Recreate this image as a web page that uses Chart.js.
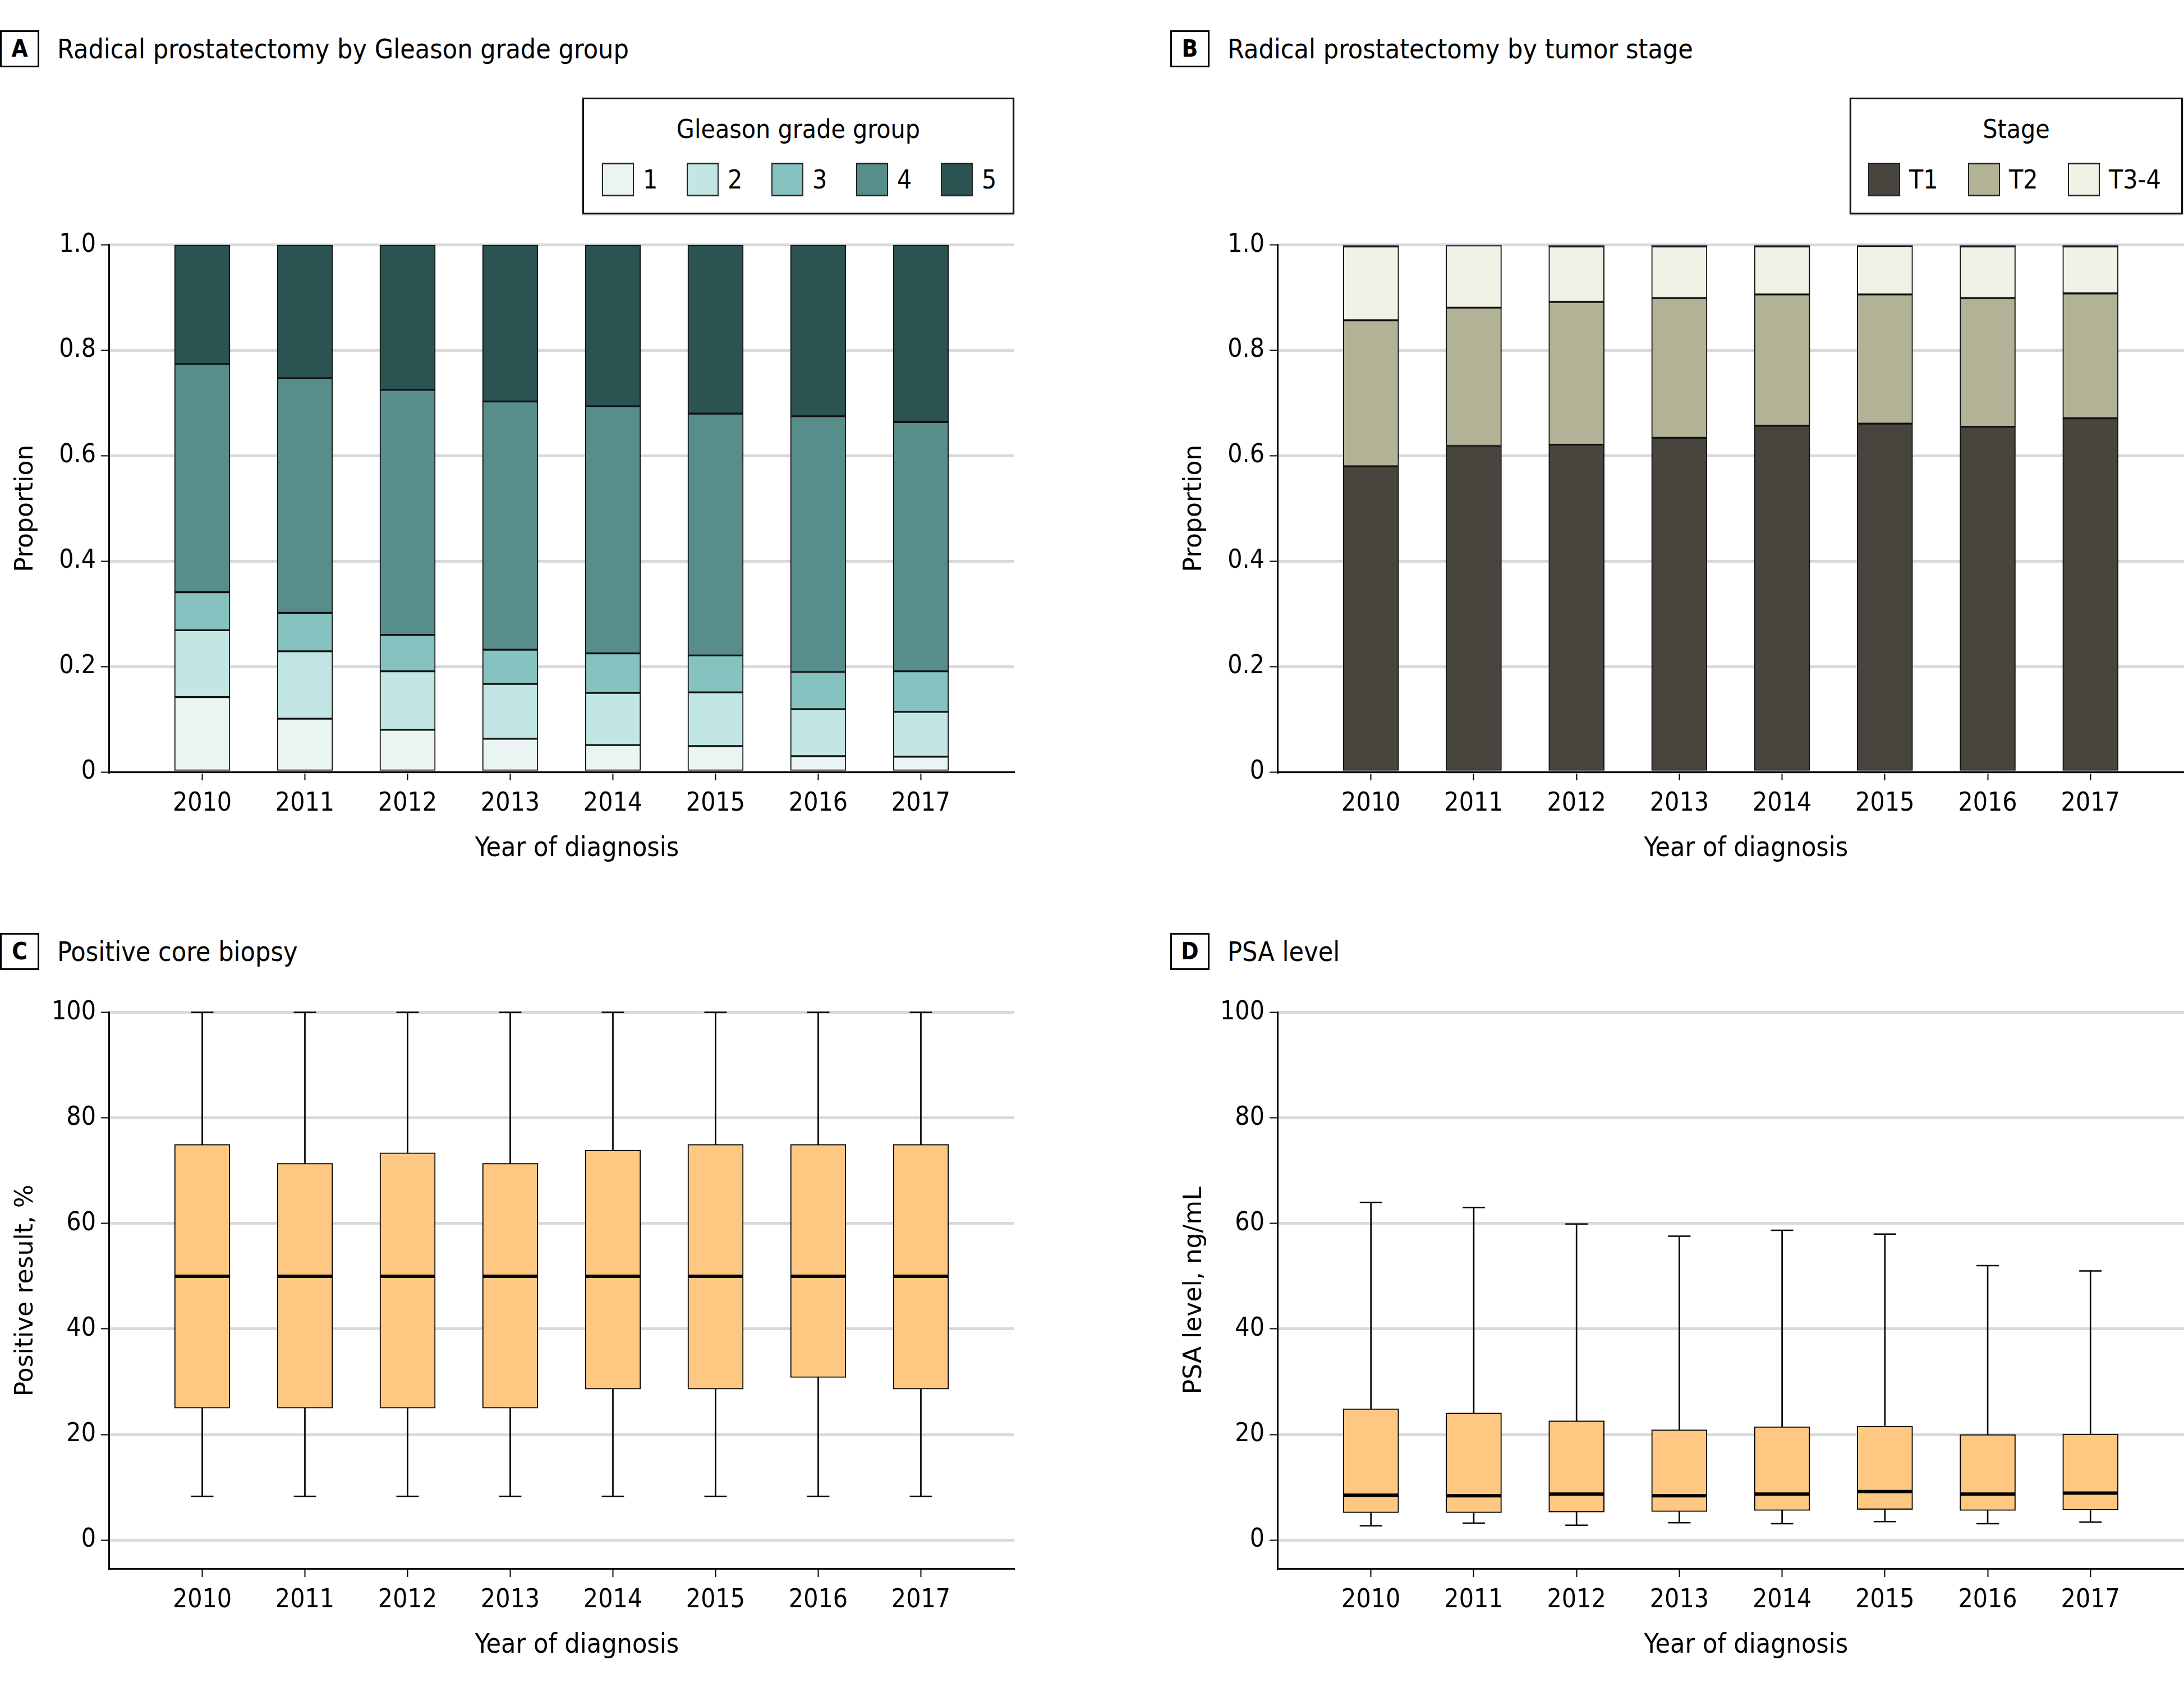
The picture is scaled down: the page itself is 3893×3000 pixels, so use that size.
<!DOCTYPE html>
<html>
<head>
<meta charset="utf-8">
<script src="https://cdn.jsdelivr.net/npm/chart.js@4.4.1/dist/chart.umd.min.js"></script>
<style>
  html, body { margin: 0; padding: 0; background: #fff; }
  body { position: relative; width: 3893px; height: 3000px; overflow: hidden;
         font-family: 'DejaVu Sans Condensed', 'Liberation Sans Narrow', sans-serif; color: #000; }
  .tag { position: absolute; box-sizing: border-box; width: 70px; height: 66px; border: 3px solid #000;
         font-weight: bold; font-size: 42px; line-height: 60px; text-align: center; }
  .ptitle { position: absolute; font-size: 48px; line-height: 66px; white-space: nowrap; }
  .legend { position: absolute; box-sizing: border-box; height: 208px; border: 3px solid #111;
            box-shadow: 0 1px 2px #888; }
  .legend-title { position: absolute; left: 0; right: 0; top: 26px; text-align: center; font-size: 46px; line-height: 54px; }
  .legend-item { position: absolute; top: 113px; height: 60px; white-space: nowrap; }
  .swatch { position: absolute; left: 0; top: 0; box-sizing: border-box; width: 57px; height: 60px;
            border: 2px solid #222; border-top-width: 3px; border-bottom-width: 3px; }
  .legend-item span.lab { position: absolute; left: 73px; top: 2px; font-size: 46px; line-height: 56px; }
  .chart { position: absolute; }
</style>
</head>
<body>

<div class="tag" style="left:0;top:54px">A</div>
<div class="ptitle" style="left:102px;top:54px">Radical prostatectomy by Gleason grade group</div>
<div class="tag" style="left:2086px;top:54px">B</div>
<div class="ptitle" style="left:2188px;top:54px">Radical prostatectomy by tumor stage</div>
<div class="tag" style="left:0;top:1663px">C</div>
<div class="ptitle" style="left:102px;top:1663px">Positive core biopsy</div>
<div class="tag" style="left:2086px;top:1663px">D</div>
<div class="ptitle" style="left:2188px;top:1663px">PSA level</div>

<div id="legendA" class="legend" style="left:1038px;top:174px;width:770px"></div>
<div id="legendB" class="legend" style="left:3297px;top:174px;width:594px"></div>

<div class="chart" style="left:0;top:400px"><canvas id="chartA" width="1850" height="1180"></canvas></div>
<div class="chart" style="left:2083px;top:400px"><canvas id="chartB" width="1810" height="1180"></canvas></div>
<div class="chart" style="left:0;top:1768px"><canvas id="chartC" width="1850" height="1232"></canvas></div>
<div class="chart" style="left:2083px;top:1768px"><canvas id="chartD" width="1810" height="1232"></canvas></div>

<script>
const YEARS = [2010, 2011, 2012, 2013, 2014, 2015, 2016, 2017];

// A: Gleason grade group proportions
const GLEASON_NAMES = ['1', '2', '3', '4', '5'];
const GLEASON_COLORS = ['#eaf4f3', '#c1e6e4', '#86c2bf', '#578e8b', '#2a5352'];
const GLEASON_1 = [0.142, 0.101, 0.080, 0.063, 0.051, 0.049, 0.030, 0.029];
const GLEASON_2 = [0.127, 0.128, 0.111, 0.104, 0.099, 0.102, 0.089, 0.085];
const GLEASON_3 = [0.072, 0.073, 0.069, 0.065, 0.075, 0.070, 0.071, 0.077];
const GLEASON_4 = [0.433, 0.445, 0.465, 0.471, 0.469, 0.459, 0.485, 0.473];
const GLEASON_5 = [0.226, 0.253, 0.275, 0.297, 0.306, 0.320, 0.325, 0.336];

// B: tumor stage proportions (last, unlabeled series is the thin purple sliver on top)
const STAGE_NAMES = ['T1', 'T2', 'T3-4'];
const STAGE_COLORS = ['#47453d', '#b2b396', '#f0f2e6'];
const STAGE_T1 = [0.580, 0.619, 0.621, 0.634, 0.657, 0.661, 0.655, 0.671];
const STAGE_T2 = [0.277, 0.262, 0.271, 0.265, 0.249, 0.245, 0.244, 0.237];
const STAGE_T34 = [0.140, 0.118, 0.105, 0.098, 0.091, 0.092, 0.098, 0.089];
const STAGE_OTHER = [0.003, 0.001, 0.003, 0.003, 0.003, 0.002, 0.003, 0.003];
const STAGE_OTHER_COLOR = '#8a22e6';

const PROPORTION_TICKS = [0, 0.2, 0.4, 0.6, 0.8, 1.0];

// C: positive core biopsy, %
const BIOPSY_MIN = [8.3, 8.3, 8.3, 8.3, 8.3, 8.3, 8.3, 8.3];
const BIOPSY_Q1 = [25, 25, 25, 25, 28.6, 28.6, 30.8, 28.6];
const BIOPSY_MEDIAN = [50, 50, 50, 50, 50, 50, 50, 50];
const BIOPSY_Q3 = [75, 71.4, 73.4, 71.4, 73.9, 75, 75, 75];
const BIOPSY_MAX = [100, 100, 100, 100, 100, 100, 100, 100];

// D: PSA level, ng/mL
const PSA_MIN = [2.7, 3.2, 2.8, 3.3, 3.1, 3.5, 3.1, 3.4];
const PSA_Q1 = [5.2, 5.2, 5.3, 5.4, 5.6, 5.8, 5.6, 5.7];
const PSA_MEDIAN = [8.5, 8.4, 8.7, 8.4, 8.7, 9.2, 8.7, 8.9];
const PSA_Q3 = [24.9, 24.1, 22.6, 20.9, 21.5, 21.6, 20.0, 20.1];
const PSA_MAX = [64.0, 63.0, 59.9, 57.6, 58.7, 58.0, 52.0, 51.0];

const BOX_TICKS = [0, 20, 40, 60, 80, 100];
const BOX_FILL = '#fec883';

const FONT = "'DejaVu Sans Condensed', 'Liberation Sans Narrow', sans-serif";
const TITLE_FONT = "'DejaVu Sans', sans-serif";

function buildLegend(el, title, names, colors, left0, step) {
  let html = `<div class="legend-title">${title}</div>`;
  names.forEach((name, i) => {
    html += `<div class="legend-item" style="left:${left0 + i * step}px">
      <span class="swatch" style="background:${colors[i]}"></span><span class="lab">${name}</span></div>`;
  });
  el.innerHTML = html;
}

function yearAxis(stacked) {
  return {
    type: 'linear',
    min: 2009.09,
    max: 2017.91,
    offset: false,
    stacked,
    afterBuildTicks: axis => { axis.ticks = YEARS.map(v => ({ value: v })); },
    afterFit: axis => { axis.height = 204; },
    border: { color: '#000', width: 3 },
    grid: { offset: false, drawOnChartArea: false, tickColor: '#000', tickLength: 15, tickWidth: 2 },
    ticks: { color: '#000', font: { family: FONT, size: 46 }, padding: 14, maxRotation: 0, autoSkip: false,
             callback: v => String(v) },
    // leading no-break spaces nudge the centred title a little right, as in the source figure
    title: { display: true, text: '\u00a0\u00a0\u00a0\u00a0Year of diagnosis', color: '#000',
             font: { family: FONT, size: 48 }, padding: { top: 0, bottom: 38 } },
  };
}

function valueAxis(opts) {
  return {
    stacked: opts.stacked,
    min: opts.min,
    max: opts.max,
    afterBuildTicks: axis => { axis.ticks = opts.ticks.map(v => ({ value: v })); },
    afterFit: axis => { axis.width = 194; },
    border: { color: '#000', width: 3 },
    grid: { color: '#d9d9d9', lineWidth: 5, tickColor: '#000', tickLength: 14, tickWidth: 2 },
    ticks: { color: '#000', font: { family: FONT, size: 46 }, padding: 9, callback: opts.format },
    title: { display: true, text: opts.title, color: '#000', font: { family: TITLE_FONT, size: 44 },
             padding: { top: 20, bottom: 0 } },
  };
}

const baseOptions = (padRight, yOpts, stacked) => ({
  responsive: false,
  animation: false,
  events: [],
  layout: { autoPadding: false, padding: { left: 0, right: padRight, top: 32, bottom: 0 } },
  plugins: { legend: { display: false }, tooltip: { enabled: false } },
  scales: { x: yearAxis(stacked), y: valueAxis(yOpts) },
});

function stackedChart(id, series, colors, padRight) {
  new Chart(document.getElementById(id), {
    type: 'bar',
    data: {
      datasets: series.map((values, i) => ({
        data: values.map((v, j) => ({ x: YEARS[j], y: v })),
        backgroundColor: colors[i],
        borderColor: '#111',
        borderWidth: colors[i] === STAGE_OTHER_COLOR ? 0 : 2,
        borderSkipped: false,
        barThickness: 99,
      })),
    },
    options: baseOptions(padRight, {
      stacked: true, min: 0, max: 1, ticks: PROPORTION_TICKS, title: 'Proportion',
      format: v => (v === 0 ? '0' : v.toFixed(1)),
    }, true),
  });
}

function boxChart(id, lo, q1, med, q3, hi, title, padRight) {
  const pts = arr => arr.map((v, j) => ({ x: YEARS[j], y: v }));
  const ranges = (a, b) => a.map((v, j) => ({ x: YEARS[j], y: [v, b[j]] }));
  const mark = (arr, radius, width) => ({
    type: 'line', data: pts(arr), showLine: false, clip: false, order: 0,
    pointStyle: 'line', pointRadius: radius, pointBorderWidth: width,
    pointBorderColor: '#000', pointBackgroundColor: '#000',
  });
  new Chart(document.getElementById(id), {
    type: 'bar',
    data: {
      datasets: [
        { data: ranges(lo, hi), backgroundColor: '#000', borderWidth: 0, barThickness: 2, grouped: false, order: 3 },
        { data: ranges(q1, q3), backgroundColor: BOX_FILL, borderColor: '#000', borderWidth: 2,
          borderSkipped: false, barThickness: 99, grouped: false, order: 2 },
        mark(med, 49, 6),
        mark(lo, 20, 2.5),
        mark(hi, 20, 2.5),
      ],
    },
    options: baseOptions(padRight, {
      stacked: false, min: -5.4, max: 100, ticks: BOX_TICKS, title, format: v => String(v),
    }, false),
  });
}

buildLegend(document.getElementById('legendA'), 'Gleason grade group', GLEASON_NAMES, GLEASON_COLORS, 32, 151);
buildLegend(document.getElementById('legendB'), 'Stage', STAGE_NAMES, STAGE_COLORS, 30, 178);

stackedChart('chartA', [GLEASON_1, GLEASON_2, GLEASON_3, GLEASON_4, GLEASON_5], GLEASON_COLORS, 42);
stackedChart('chartB', [STAGE_T1, STAGE_T2, STAGE_T34, STAGE_OTHER], [...STAGE_COLORS, STAGE_OTHER_COLOR], 0);
boxChart('chartC', BIOPSY_MIN, BIOPSY_Q1, BIOPSY_MEDIAN, BIOPSY_Q3, BIOPSY_MAX, 'Positive result, %', 42);
boxChart('chartD', PSA_MIN, PSA_Q1, PSA_MEDIAN, PSA_Q3, PSA_MAX, 'PSA level, ng/mL', 0);
</script>
</body>
</html>
